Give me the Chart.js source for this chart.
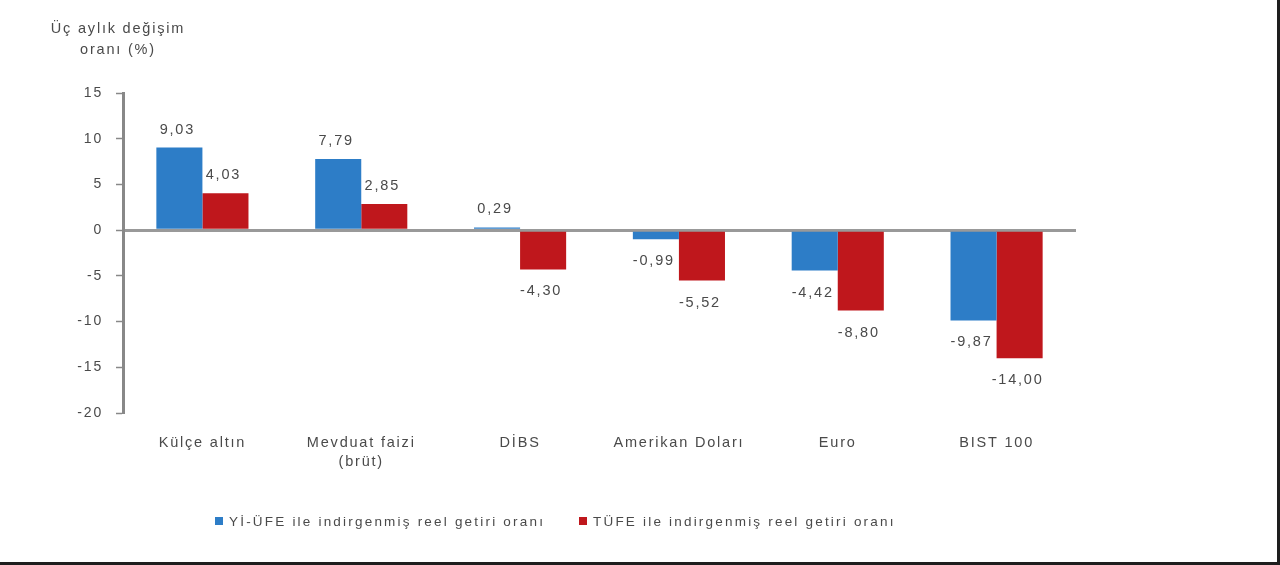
<!DOCTYPE html>
<html lang="tr">
<head>
<meta charset="utf-8">
<title>Üç aylık değişim oranı</title>
<script src="https://cdn.jsdelivr.net/npm/chart.js@4/dist/chart.umd.min.js"></script>
<style>
  html, body { margin: 0; padding: 0; background: #fff; }
  #frame {
    width: 1280px; height: 565px; box-sizing: border-box;
    border-right: 3px solid #1e1e1e; border-bottom: 3px solid #1e1e1e;
    position: relative;
  }
  #chart { display: block; }
</style>
</head>
<body>
<div id="frame"><canvas id="chart" width="1277" height="562"></canvas></div>
<script>
'use strict';

const categories = ['Külçe altın', ['Mevduat faizi', '(brüt)'], 'DİBS', 'Amerikan Doları', 'Euro', 'BIST 100'];
const yiUfeValues = [9.03, 7.79, 0.29, -0.99, -4.42, -9.87];
const tufeValues = [4.03, 2.85, -4.30, -5.52, -8.80, -14.00];
const seriesNames = ['Yİ-ÜFE ile indirgenmiş reel getiri oranı', 'TÜFE ile indirgenmiş reel getiri oranı'];
const yTicks = [15, 10, 5, 0, -5, -10, -15, -20];
const titleLines = ['Üç aylık değişim', 'oranı (%)'];

const BLUE = '#2d7dc7';
const RED = '#bf171c';
const TEXT = '#4a4a4a';
const FONT = '"Liberation Sans", Arial, sans-serif';
const SPACING = '1.8px';

const fmt = v => v.toFixed(2).replace('.', ',');

// the original text looks stretched sideways
const spacingPlugin = {
  id: 'spacing',
  beforeUpdate(chart) { chart.ctx.letterSpacing = SPACING; },
  beforeDraw(chart) { chart.ctx.letterSpacing = SPACING; },
};

const valueLabels = {
  id: 'valueLabels',
  afterDatasetsDraw(chart) {
    const ctx = chart.ctx;
    ctx.save();
    ctx.letterSpacing = SPACING;
    ctx.font = `14.5px ${FONT}`;
    ctx.fillStyle = TEXT;
    ctx.textAlign = 'center';
    ctx.textBaseline = 'middle';
    chart.data.datasets.forEach((ds, i) => {
      chart.getDatasetMeta(i).data.forEach((bar, j) => {
        const v = ds.data[j];
        const y = v >= 0 ? bar.y - 18 : bar.y + 22;
        ctx.fillText(fmt(v), bar.x - 2, y);
      });
    });
    ctx.restore();
  },
};

const extras = {
  id: 'extras',
  afterDraw(chart) {
    const ctx = chart.ctx;
    ctx.save();
    ctx.letterSpacing = SPACING;
    ctx.fillStyle = TEXT;
    ctx.font = `14.5px ${FONT}`;
    ctx.textAlign = 'center';
    ctx.textBaseline = 'middle';
    ctx.fillText(titleLines[0], 118, 29);
    ctx.fillText(titleLines[1], 118, 50);

    // legend
    const items = [
      { x: 215, color: BLUE, text: seriesNames[0] },
      { x: 579, color: RED, text: seriesNames[1] },
    ];
    ctx.letterSpacing = '2.2px';
    ctx.font = `13.5px ${FONT}`;
    ctx.textAlign = 'left';
    items.forEach(it => {
      ctx.fillStyle = it.color;
      ctx.fillRect(it.x, 517, 8, 8);
      ctx.fillStyle = TEXT;
      ctx.fillText(it.text, it.x + 14, 522);
    });
    ctx.restore();
  },
};

new Chart(document.getElementById('chart'), {
  type: 'bar',
  data: {
    labels: categories,
    datasets: [
      { label: seriesNames[0], data: yiUfeValues, backgroundColor: BLUE },
      { label: seriesNames[1], data: tufeValues, backgroundColor: RED },
    ],
  },
  options: {
    responsive: false,
    animation: false,
    devicePixelRatio: 1,
    categoryPercentage: 0.58,
    barPercentage: 1,
    layout: { padding: { left: 0, right: 201, top: 93, bottom: 89 } },
    plugins: {
      legend: { display: false },
      tooltip: { enabled: false },
    },
    scales: {
      x: {
        grid: { display: false, drawTicks: false },
        border: { display: false },
        ticks: {
          color: TEXT,
          padding: 20,
          font: { family: FONT, size: 14.5, lineHeight: 1.35 },
          maxRotation: 0,
          autoSkip: false,
        },
        afterFit: s => { s.height = 60; },
      },
      y: {
        min: -20,
        max: 15,
        afterBuildTicks: s => { s.ticks = yTicks.map(v => ({ value: v })); },
        grid: {
          color: c => (c.tick && c.tick.value === 0 ? '#999' : 'transparent'),
          lineWidth: c => (c.tick && c.tick.value === 0 ? 3 : 1),
          tickColor: '#888',
          tickWidth: 1.5,
          tickLength: 7,
        },
        border: { display: true, color: '#888', width: 3 },
        ticks: {
          color: TEXT,
          padding: 13,
          font: { family: FONT, size: 14 },
        },
        afterFit: s => { s.width = 123; },
      },
    },
  },
  plugins: [spacingPlugin, valueLabels, extras],
});
</script>
</body>
</html>
